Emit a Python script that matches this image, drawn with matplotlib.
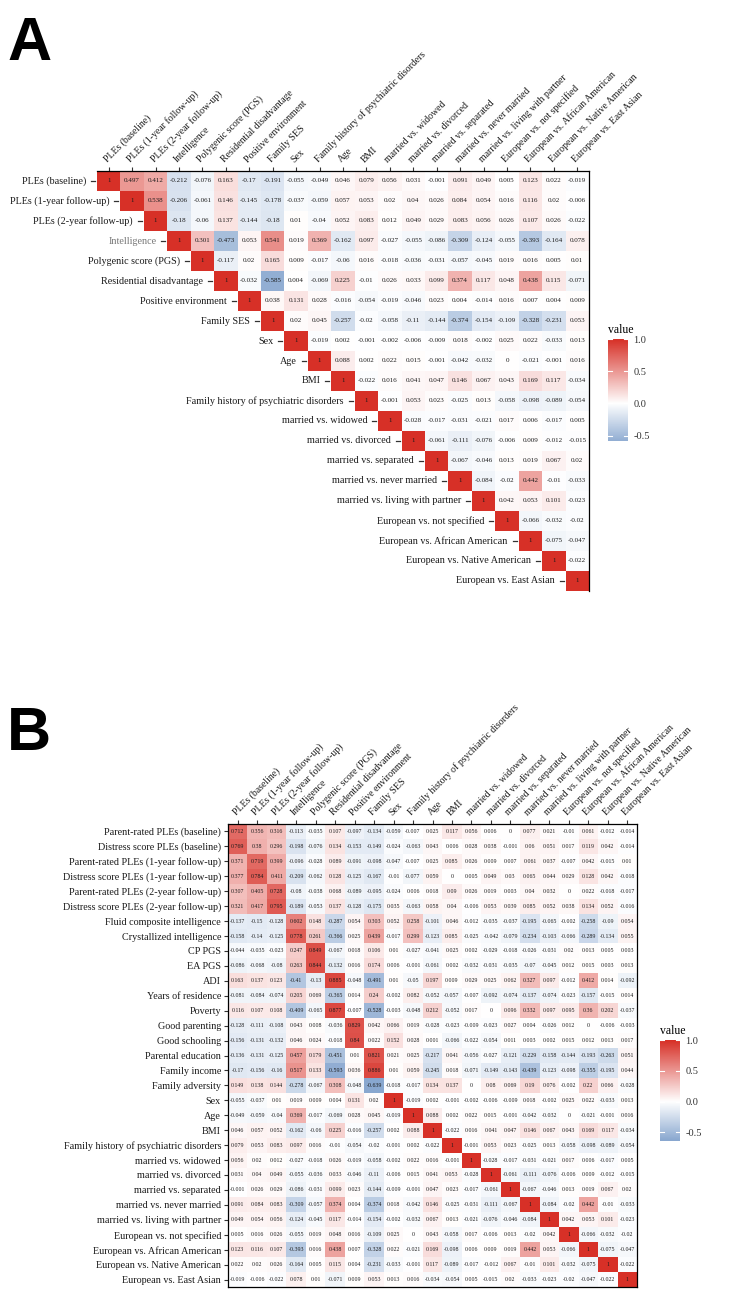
import numpy as np
import matplotlib.pyplot as plt
from matplotlib.colors import LinearSegmentedColormap, Normalize
from matplotlib.transforms import offset_copy

W, H = 750, 1314
SERIF = ['Liberation Serif', 'DejaVu Serif']

# column labels (both panels)
cols = ["PLEs (baseline)", "PLEs (1-year follow-up)", "PLEs (2-year follow-up)", "Intelligence",
        "Polygenic score (PGS)", "Residential disadvantage", "Positive environment", "Family SES",
        "Sex", "Family history of psychiatric disorders", "Age", "BMI",
        "married vs. widowed", "married vs. divorced", "married vs. separated",
        "married vs. never married", "married vs. living with partner",
        "European vs. not specified", "European vs. African American",
        "European vs. Native American", "European vs. East Asian"]

rows_a = ["PLEs (baseline)", "PLEs (1-year follow-up)", "PLEs (2-year follow-up)", "Intelligence",
          "Polygenic score (PGS)", "Residential disadvantage", "Positive environment", "Family SES",
          "Sex", "Age", "BMI", "Family history of psychiatric disorders",
          "married vs. widowed", "married vs. divorced", "married vs. separated",
          "married vs. never married", "married vs. living with partner",
          "European vs. not specified", "European vs. African American",
          "European vs. Native American", "European vs. East Asian"]

# panel A: upper triangle, row i starts at column i
tri_a = [
    [1, .497, .412, -.212, -.076, .163, -.17, -.191, -.055, -.049, .046, .079, .056, .031, -.001, .091, .049, .005, .123, .022, -.019],
    [1, .538, -.206, -.061, .146, -.145, -.178, -.037, -.059, .057, .053, .02, .04, .026, .084, .054, .016, .116, .02, -.006],
    [1, -.18, -.06, .137, -.144, -.18, .01, -.04, .052, .083, .012, .049, .029, .083, .056, .026, .107, .026, -.022],
    [1, .301, -.473, .053, .541, .019, .369, -.162, .097, -.027, -.055, -.086, -.309, -.124, -.055, -.393, -.164, .078],
    [1, -.117, .02, .165, .009, -.017, -.06, .016, -.018, -.036, -.031, -.057, -.045, .019, .016, .005, .01],
    [1, -.032, -.585, .004, -.069, .225, -.01, .026, .033, .099, .374, .117, .048, .438, .115, -.071],
    [1, .038, .131, .028, -.016, -.054, -.019, -.046, .023, .004, -.014, .016, .007, .004, .009],
    [1, .02, .045, -.257, -.02, -.058, -.11, -.144, -.374, -.154, -.109, -.328, -.231, .053],
    [1, -.019, .002, -.001, -.002, -.006, -.009, .018, -.002, .025, .022, -.033, .013],
    [1, .088, .002, .022, .015, -.001, -.042, -.032, 0, -.021, -.001, .016],
    [1, -.022, .016, .041, .047, .146, .067, .043, .169, .117, -.034],
    [1, -.001, .053, .023, -.025, .013, -.058, -.098, -.089, -.054],
    [1, -.028, -.017, -.031, -.021, .017, .006, -.017, .005],
    [1, -.061, -.111, -.076, -.006, .009, -.012, -.015],
    [1, -.067, -.046, .013, .019, .067, .02],
    [1, -.084, -.02, .442, -.01, -.033],
    [1, .042, .053, .101, -.023],
    [1, -.066, -.032, -.02],
    [1, -.075, -.047],
    [1, -.022],
    [1],
]
text_override_a = {(0, 17): "0.00", (0, 18): "0.0123"}

# panel B: item-level rows
rows_b_items = ["Parent-rated PLEs (baseline)", "Distress score PLEs (baseline)",
                "Parent-rated PLEs (1-year follow-up)", "Distress score PLEs (1-year follow-up)",
                "Parent-rated PLEs (2-year follow-up)", "Distress score PLEs (2-year follow-up)",
                "Fluid composite intelligence", "Crystallized intelligence", "CP PGS", "EA PGS",
                "ADI", "Years of residence", "Poverty", "Good parenting", "Good schooling",
                "Parental education", "Family income", "Family adversity"]
vals_b_items = [
    [.712, .356, .316, -.113, -.035, .107, -.097, -.134, -.059, -.007, .025, .117, .056, .006, 0, .077, .021, -.01, .061, -.012, -.014],
    [.769, .38, .296, -.198, -.076, .134, -.153, -.149, -.024, -.063, .043, .006, .028, .038, -.001, .06, .051, .017, .119, .042, -.014],
    [.371, .719, .399, -.096, -.028, .089, -.091, -.098, -.047, -.007, .025, .085, .026, .009, .007, .061, .037, -.007, .042, -.015, .01],
    [.377, .784, .411, -.209, -.062, .128, -.125, -.167, -.01, -.077, .059, 0, .005, .049, .03, .065, .044, .029, .128, .042, -.018],
    [.307, .405, .728, -.08, -.038, .068, -.089, -.095, -.024, .006, .018, .09, .026, .019, .003, .04, .032, 0, .022, -.018, -.017],
    [.321, .417, .795, -.189, -.053, .137, -.128, -.175, .035, -.063, .058, .04, -.006, .053, .039, .085, .052, .038, .134, .052, -.016],
    [-.137, -.15, -.128, .602, .148, -.287, .054, .303, .052, .258, -.101, .046, -.012, -.035, -.037, -.195, -.065, -.002, -.258, -.09, .054],
    [-.158, -.14, -.125, .778, .261, -.366, .025, .439, -.017, .299, -.123, .085, -.025, -.042, -.079, -.234, -.103, -.066, -.289, -.134, .055],
    [-.044, -.035, -.023, .247, .849, -.067, .018, .106, .01, -.027, -.041, .025, .002, -.029, -.018, -.026, -.031, .02, .013, .005, .003],
    [-.086, -.068, -.08, .263, .844, -.132, .016, .174, .006, -.001, -.061, .002, -.032, -.031, -.035, -.07, -.045, .012, .015, .003, .013],
    [.163, .137, .123, -.41, -.13, .885, -.048, -.491, .01, -.05, .197, .009, .029, .025, .062, .327, .097, -.012, .412, .014, -.092],
    [-.081, -.084, -.074, .205, .069, -.365, .014, .24, -.002, .082, -.052, -.057, -.007, -.092, -.074, -.137, -.074, -.023, -.157, -.015, .014],
    [.116, .107, .108, -.409, -.065, .877, -.007, -.528, -.003, -.048, .212, -.052, .017, 0, .096, .332, .097, .095, .36, .202, -.037],
    [-.128, -.111, -.108, .043, .008, -.036, .829, .042, .066, .019, -.028, -.023, -.009, -.023, .027, .004, -.026, .012, 0, -.006, -.003],
    [-.156, -.131, -.132, .046, .024, -.018, .84, .022, .152, .028, .001, -.066, -.022, -.054, .011, .003, .002, .015, .012, .013, .017],
    [-.136, -.131, -.125, .457, .179, -.451, .01, .821, .021, .025, -.217, .041, -.056, -.027, -.121, -.229, -.158, -.144, -.193, -.263, .051],
    [-.17, -.156, -.16, .517, .133, -.593, .036, .886, .01, .059, -.245, .018, -.071, -.149, -.143, -.439, -.123, -.098, -.355, -.195, .044],
    [.149, .138, .144, -.278, -.067, .308, -.048, -.639, -.018, -.017, .134, .137, 0, .08, .069, .19, .076, -.002, .22, .066, -.028],
]

# full symmetric matrix for panel A; its lower rows are reused in panel B
n = len(cols)
mat_a = np.full((n, n), np.nan)
for i, r in enumerate(tri_a):
    mat_a[i, i:] = r
sym = np.where(np.isnan(mat_a), mat_a.T, mat_a)
mat_b = np.vstack([np.array(vals_b_items), sym[8:]])
rows_b = rows_b_items + rows_a[8:]

cmap = LinearSegmentedColormap.from_list("corr", ["#4575B4", "#FFFFFF", "#D73027"])
norm = Normalize(-1, 1)

fig = plt.figure(figsize=(W / 100, H / 100), dpi=100)


def px_axes(x0, y0, x1, y1):
    return fig.add_axes([x0 / W, 1 - y1 / H, (x1 - x0) / W, (y1 - y0) / H])


def heat(ax, m, fs, xfs, overrides=None):
    ax.pcolormesh(np.ma.masked_invalid(m), cmap=cmap, norm=norm)
    ax.set_xlim(0, m.shape[1])
    ax.set_ylim(m.shape[0], 0)
    for i in range(m.shape[0]):
        for j in range(m.shape[1]):
            v = m[i, j]
            if np.isnan(v):
                continue
            s = (overrides or {}).get((i, j), f"{v:g}")
            ax.text(j + 0.5, i + 0.5, s, ha="center", va="center", fontsize=fs,
                    family=SERIF, color="#1a1a1a")
    ax.set_xticks(np.arange(m.shape[1]) + 0.5)
    ax.xaxis.tick_top()
    ax.set_xticklabels(cols, rotation=45, ha="left", va="bottom", rotation_mode="anchor",
                       fontsize=xfs, family=SERIF, color="#1a1a1a")
    ax.tick_params(axis="x", length=3, width=0.8, pad=2, color="#333333")
    for s in ax.spines.values():
        s.set_linewidth(0.9)
        s.set_color("black")


def colorbar(x0, y0, x1, y1, vmin):
    cax = px_axes(x0, y0, x1, y1)
    grad = np.linspace(vmin, 1, 256).reshape(-1, 1)
    cax.imshow(grad, cmap=cmap, norm=norm, aspect="auto", origin="lower",
               extent=[0, 1, vmin, 1])
    cax.set_xlim(0, 1)
    cax.set_ylim(vmin, 1)
    ticks = [-0.5, 0, 0.5, 1]
    for t in ticks:
        cax.plot([0, 0.2], [t, t], color="white", lw=0.8)
        cax.plot([0.8, 1], [t, t], color="white", lw=0.8)
    cax.yaxis.tick_right()
    cax.set_yticks(ticks)
    cax.set_yticklabels(["-0.5", "0.0", "0.5", "1.0"], fontsize=7.5, family=SERIF, color="#333333")
    cax.tick_params(axis="y", length=0, pad=4)
    cax.set_xticks([])
    for s in cax.spines.values():
        s.set_visible(False)
    fig.text(x0 / W, 1 - (y0 - 3) / H, "value", ha="left", va="bottom", fontsize=8.5, family=SERIF)


# ---- panel A
axa = px_axes(97, 171, 589, 591)
heat(axa, mat_a, 5, 7)
axa.set_yticks([])
axa.spines["left"].set_visible(False)
axa.spines["bottom"].set_visible(False)
cw = 1.0 / 23.43
lab_tr = offset_copy(axa.transData, x=-11, y=0, units="dots")
for i, lab in enumerate(rows_a):
    axa.text(i, i + 0.5, lab, ha="right", va="center", fontsize=7.3, family=SERIF,
             color="#777777" if lab == "Intelligence" else "#1a1a1a", transform=lab_tr, clip_on=False)
    axa.plot([i - 6 * cw, i - 2 * cw], [i + 0.5, i + 0.5], color="#333333", lw=0.9, clip_on=False)
colorbar(608, 339, 628, 441, np.nanmin(mat_a))

# ---- panel B
axb = px_axes(228, 824, 637, 1287)
heat(axb, mat_b, 4.2, 7)
axb.set_yticks(np.arange(len(rows_b)) + 0.5)
axb.set_yticklabels(rows_b, fontsize=7.3, family=SERIF, color="#1a1a1a")
axb.tick_params(axis="y", length=3, width=0.8, pad=2, color="#333333")
colorbar(660, 1040, 680, 1141, np.nanmin(mat_b))

fig.text(7 / W, 1 - 60 / H, "A", fontsize=44, fontweight="bold",
         family="Liberation Sans", va="baseline")
fig.text(7 / W, 1 - 750 / H, "B", fontsize=44, fontweight="bold",
         family="Liberation Sans", va="baseline")

fig.savefig("out.png", dpi=100)
